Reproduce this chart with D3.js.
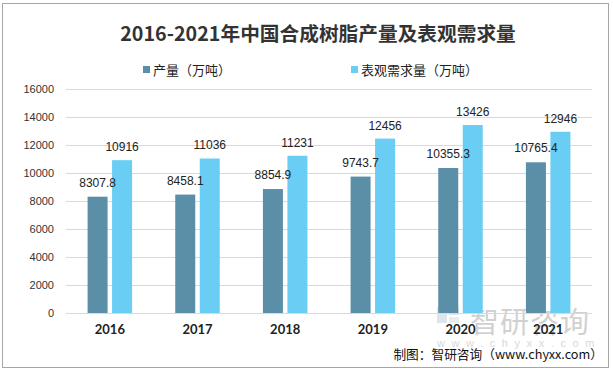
<!DOCTYPE html>
<html><head><meta charset="utf-8">
<script src="https://cdn.jsdelivr.net/npm/d3@7"></script>
<style>body{margin:0;background:#fff}svg{display:block}</style>
</head><body>
<svg id="c" width="613" height="375"></svg>
<script>
const years = ["2016","2017","2018","2019","2020","2021"];
const production = [8307.8, 8458.1, 8854.9, 9743.7, 10355.3, 10765.4];
const demand = [10916, 11036, 11231, 12456, 13426, 12946];
const productionLabels = ["8307.8","8458.1","8854.9","9743.7","10355.3","10765.4"];
const demandLabels = ["10916","11036","11231","12456","13426","12946"];
const yTicks = [0,2000,4000,6000,8000,10000,12000,14000,16000];
const seriesNames = ["产量（万吨）","表观需求量（万吨）"];
const colors = ["#5B8FA7","#6ACEF4"];

(function(){
const svg = d3.select("#c");
const cjk = "'Noto Sans CJK SC','Noto Sans',sans-serif";
const pLeft = 66, pRight = 592, pTop = 89, pBottom = 313;

svg.append("rect").attr("x",2.5).attr("y",3.5).attr("width",606).attr("height",364)
  .attr("fill","#fff").attr("stroke","#A6A6A6");

const x = d3.scaleBand().domain(years).range([pLeft, pRight]).paddingInner(0).paddingOuter(0);
const y = d3.scaleLinear().domain([0,16000]).range([pBottom, pTop]);
const barW = 20, gap = 4.5;

const yAxis = d3.axisLeft(y).tickValues(yTicks).tickSize(-(pRight-pLeft)).tickFormat(d3.format("d")).tickPadding(12);
const ga = svg.append("g").attr("transform",`translate(${pLeft},0)`).call(yAxis);
ga.select(".domain").remove();
ga.selectAll(".tick line").attr("stroke","#D9D9D9");
ga.selectAll(".tick text").attr("font-family","'Liberation Sans',Arial,sans-serif").attr("font-size",11).attr("fill","#333");

// watermark
const wm = svg.append("g").attr("opacity",0.45);
wm.append("rect").attr("x",437).attr("y",307).attr("width",10).attr("height",16).attr("fill","#B8C6D8");
wm.append("rect").attr("x",449).attr("y",307).attr("width",10).attr("height",8).attr("fill","#B8C6D8");
wm.append("rect").attr("x",449).attr("y",317).attr("width",10).attr("height",6).attr("fill","#D0D8E4");
wm.append("text").attr("x",470).attr("y",333).attr("font-family",cjk).attr("font-size",29)
  .attr("fill","#9A9A9A").attr("letter-spacing",1).text("智研咨询");
wm.append("text").attr("x",437).attr("y",347).attr("font-family","'Liberation Sans',sans-serif").attr("font-size",11)
  .attr("fill","#A8A8A8").attr("letter-spacing",6.6).text("www.chyxx.com");

const g = svg.append("g");
years.forEach((yr,i)=>{
  const cx = x(yr) + x.bandwidth()/2;
  const px = cx - gap/2 - barW, dx = cx + gap/2;
  g.append("rect").attr("x",px).attr("y",y(production[i])).attr("width",barW)
    .attr("height",y(0)-y(production[i])).attr("fill",colors[0]);
  g.append("rect").attr("x",dx).attr("y",y(demand[i])).attr("width",barW)
    .attr("height",y(0)-y(demand[i])).attr("fill",colors[1]);
  g.append("text").attr("x",px+barW/2).attr("y",y(production[i])-10).attr("text-anchor","middle")
    .attr("font-family","'Liberation Sans',Arial,sans-serif").attr("font-size",12).attr("fill","#222").text(productionLabels[i]);
  g.append("text").attr("x",dx+barW/2).attr("y",y(demand[i])-9).attr("text-anchor","middle")
    .attr("font-family","'Liberation Sans',Arial,sans-serif").attr("font-size",12).attr("fill","#222").text(demandLabels[i]);
});

svg.append("line").attr("x1",pLeft).attr("x2",pRight).attr("y1",pBottom+0.5).attr("y2",pBottom+0.5).attr("stroke","#D9D9D9");
const xa = svg.append("g").attr("transform",`translate(0,${pBottom})`).call(d3.axisBottom(x).tickSize(0).tickPadding(12));
xa.select(".domain").remove();
xa.selectAll("text").attr("font-family","Lato,'Liberation Sans',sans-serif").attr("font-weight","bold")
  .attr("font-size",13).attr("fill","#222");

svg.append("text").attr("x",318).attr("y",41).attr("text-anchor","middle").attr("font-family",cjk)
  .attr("font-weight","bold").attr("font-size",19.7).attr("fill","#333").text("2016-2021年中国合成树脂产量及表观需求量");

[{x:143, i:0},{x:351, i:1}].forEach(l=>{
  svg.append("rect").attr("x",l.x).attr("y",66).attr("width",7).attr("height",7).attr("fill",colors[l.i]);
  svg.append("text").attr("x",l.x+10).attr("y",74.5).attr("font-family",cjk).attr("font-size",13)
    .attr("fill","#222").text(seriesNames[l.i]);
});

svg.append("text").attr("x",603).attr("y",359).attr("text-anchor","end").attr("font-family",cjk)
  .attr("font-size",12.7).attr("fill","#111").text("制图：智研咨询（www.chyxx.com）");
})();
</script>
</body></html>
